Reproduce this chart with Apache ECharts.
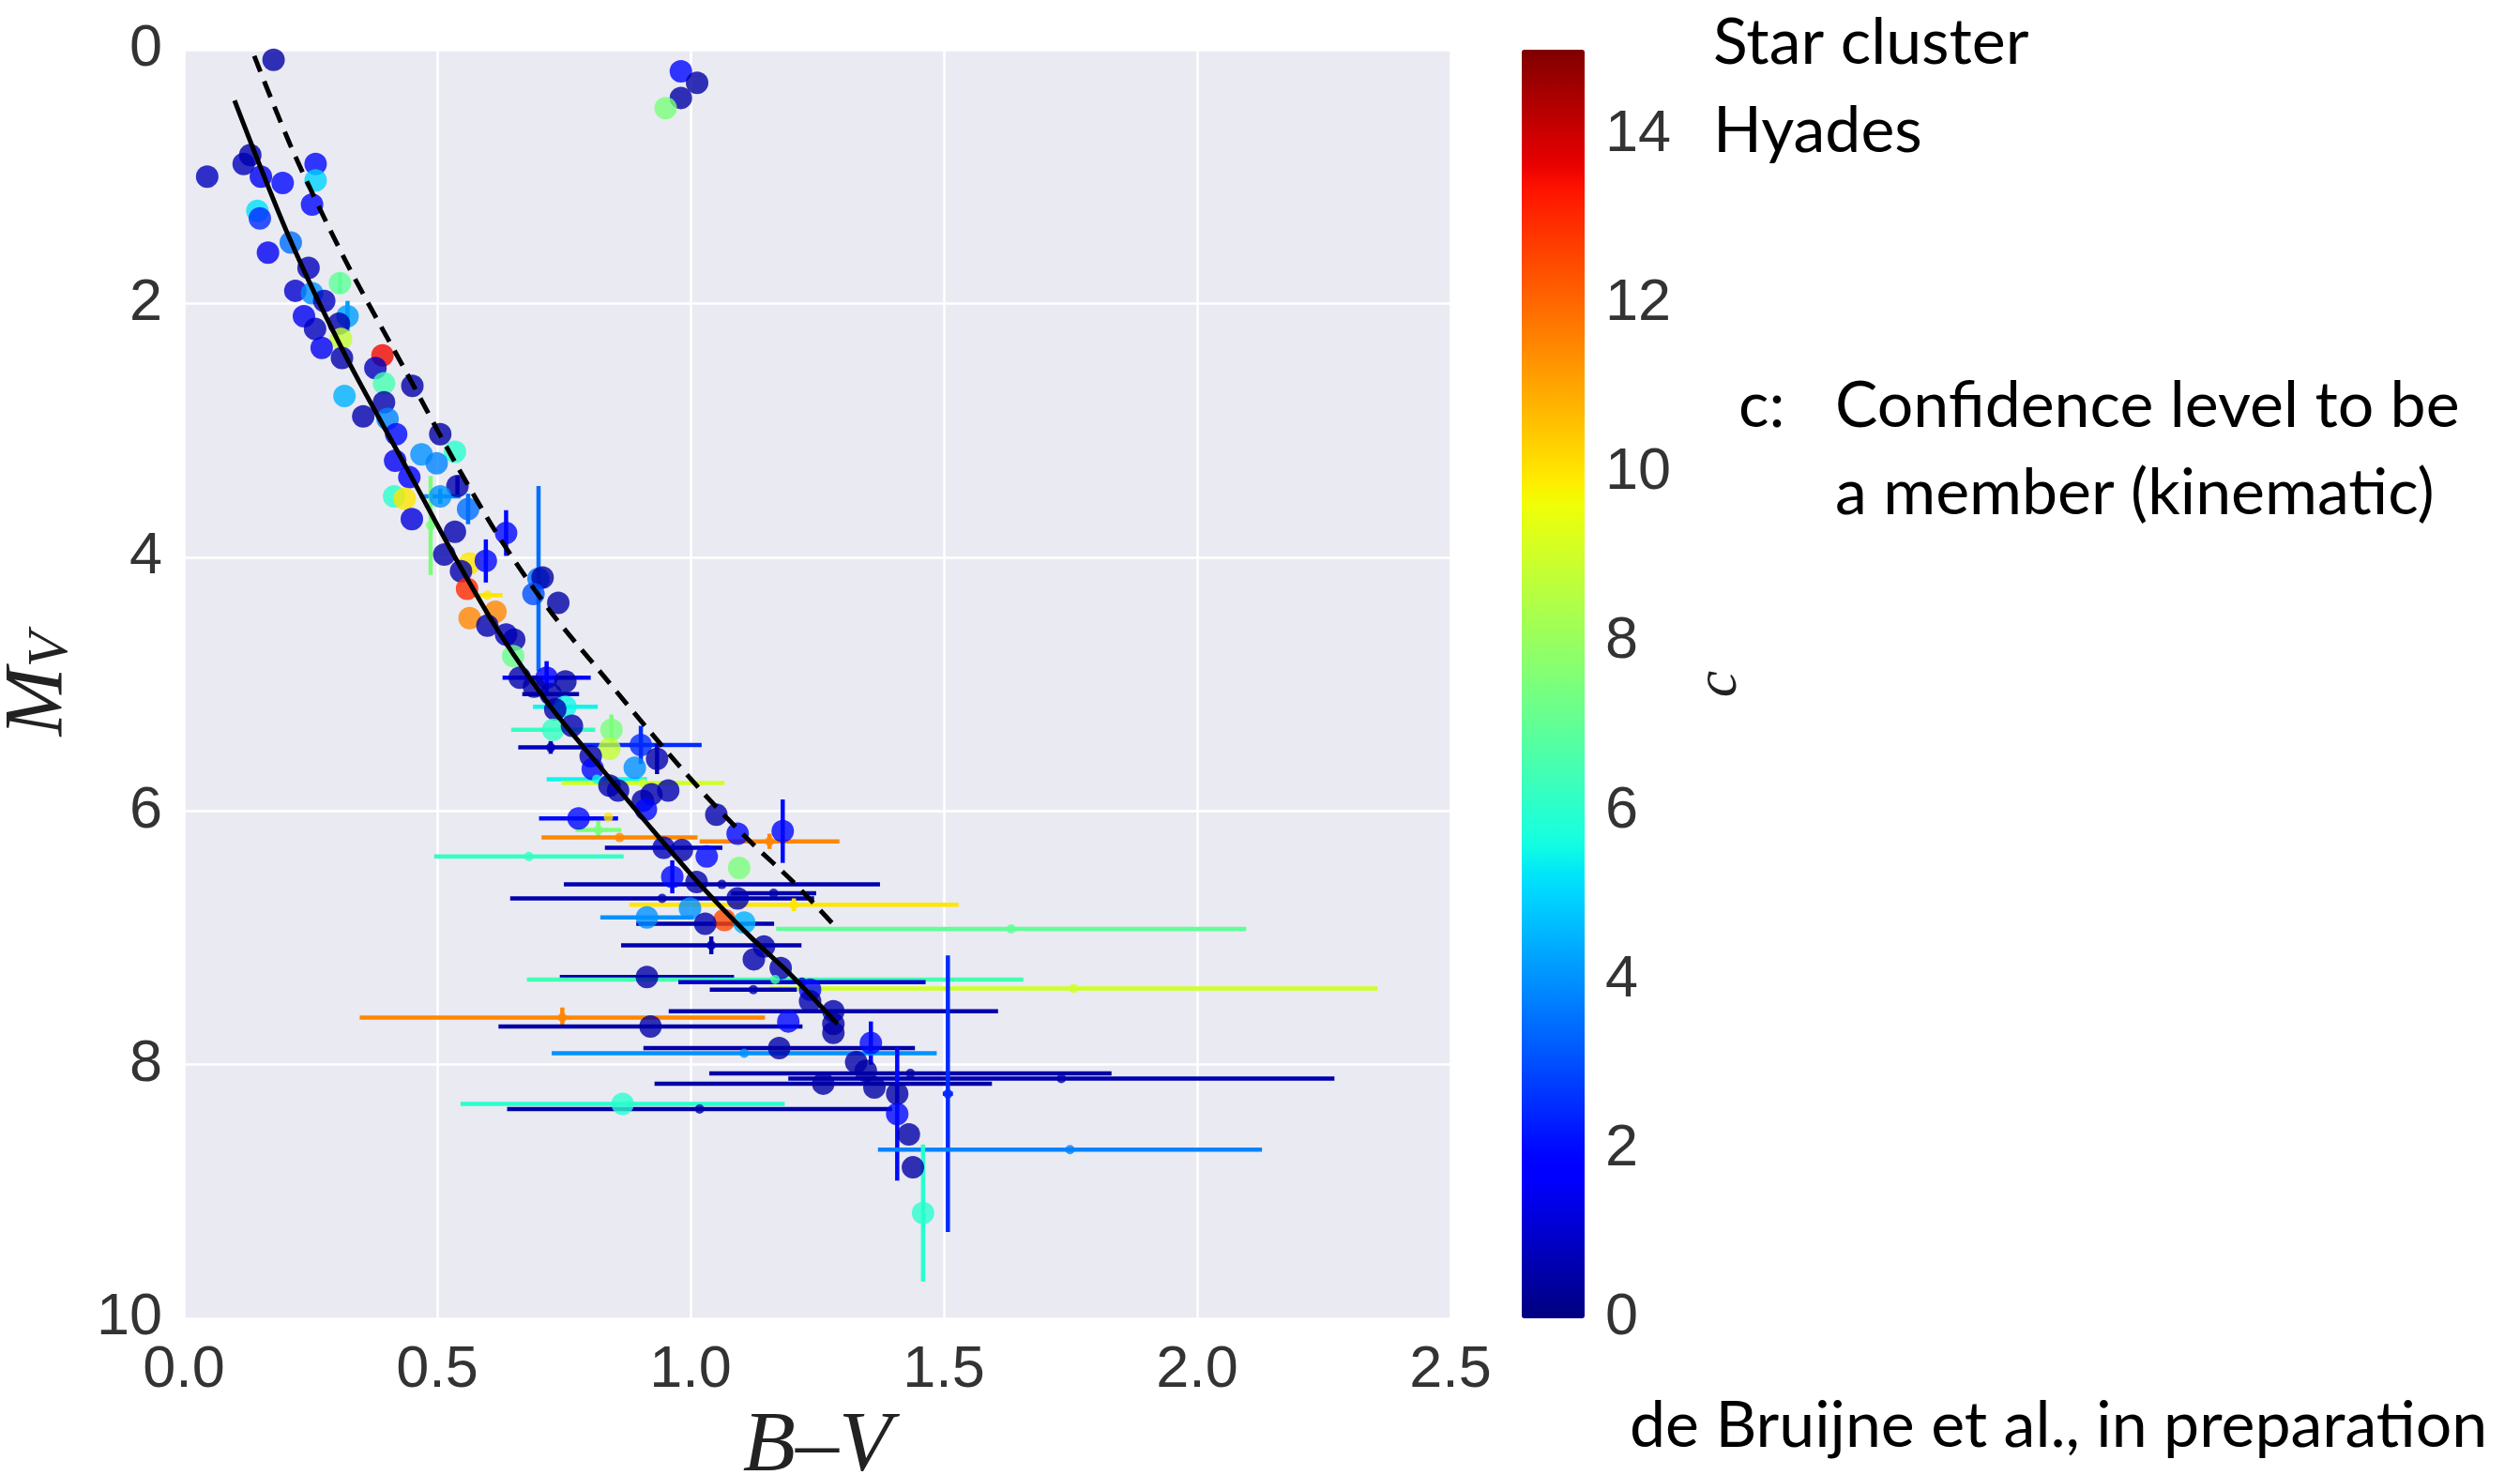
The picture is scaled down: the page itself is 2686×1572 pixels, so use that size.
<!DOCTYPE html>
<html>
<head>
<meta charset="utf-8">
<script src="https://cdn.jsdelivr.net/npm/echarts@6/dist/echarts.min.js"></script>
<style>
  html, body { margin: 0; padding: 0; background: #fff; }
  #chart { width: 2686px; height: 1572px; }
</style>
</head>
<body>
<div id="chart"></div>
<script>
// Hyades colour-magnitude diagram: B-V colour, absolute magnitude M_V,
// kinematic membership confidence c, and 1-sigma errors.
const bv = [
  0.177, 0.981, 1.013, 0.981, 0.951, 0.046, 0.118, 0.131, 0.152, 0.195,
  0.260, 0.260, 0.253, 0.145, 0.150, 0.166, 0.211, 0.246, 0.220, 0.308,
  0.253, 0.277, 0.237, 0.323, 0.306, 0.259, 0.310, 0.272, 0.312, 0.392,
  0.378, 0.451, 0.395, 0.317, 0.395, 0.354, 0.402, 0.419, 0.506, 0.535,
  0.469, 0.499, 0.417, 0.445, 0.540, 0.415, 0.436, 0.506, 0.561, 0.450,
  0.487, 0.535, 0.636, 0.514, 0.564, 0.596, 0.547, 0.559, 0.599, 0.564,
  0.615, 0.700, 0.708, 0.690, 0.739, 0.599, 0.636, 0.652, 0.650, 0.663,
  0.716, 0.753, 0.691, 0.724, 0.753, 0.733, 0.729, 0.766, 0.844, 0.902,
  0.840, 0.724, 0.934, 0.890, 0.803, 0.807, 0.815, 0.906, 0.840, 0.857,
  0.956, 0.906, 0.923, 0.912, 1.051, 0.779, 0.838, 0.818, 0.860, 1.156,
  1.093, 1.182, 0.681, 0.983, 0.947, 1.032, 1.096, 0.964, 1.012, 1.062,
  1.093, 1.164, 0.944, 1.204, 0.999, 0.914, 1.067, 1.106, 1.029, 1.633,
  1.041, 1.145, 1.125, 1.178, 0.914, 1.167, 1.220, 1.756, 1.124, 1.236,
  1.236, 1.282, 1.282, 1.282, 0.747, 0.921, 1.193, 1.356, 1.175, 1.106,
  1.327, 1.346, 1.262, 1.363, 1.434, 1.732, 1.408, 1.508, 0.866, 1.018,
  1.408, 1.431, 1.749, 1.439, 1.459
];
const mv = [
  0.08, 0.17, 0.26, 0.38, 0.46, 1.00, 0.90, 0.83, 1.00, 1.05,
  0.90, 1.03, 1.22, 1.27, 1.33, 1.60, 1.52, 1.72, 1.90, 1.84,
  1.92, 1.98, 2.10, 2.10, 2.16, 2.20, 2.28, 2.35, 2.43, 2.41,
  2.51, 2.65, 2.63, 2.73, 2.78, 2.89, 2.91, 3.03, 3.03, 3.17,
  3.19, 3.26, 3.24, 3.37, 3.44, 3.52, 3.54, 3.52, 3.62, 3.70,
  3.75, 3.80, 3.81, 3.98, 4.05, 4.03, 4.11, 4.25, 4.30, 4.48,
  4.43, 4.17, 4.16, 4.29, 4.36, 4.54, 4.61, 4.65, 4.78, 4.95,
  4.95, 4.98, 5.02, 5.08, 5.18, 5.20, 5.36, 5.33, 5.36, 5.48,
  5.51, 5.50, 5.59, 5.66, 5.57, 5.67, 5.75, 5.78, 5.80, 5.84,
  5.84, 5.92, 5.87, 5.99, 6.03, 6.06, 6.05, 6.15, 6.21, 6.24,
  6.18, 6.16, 6.36, 6.31, 6.29, 6.36, 6.45, 6.52, 6.56, 6.58,
  6.69, 6.65, 6.69, 6.74, 6.77, 6.84, 6.86, 6.88, 6.89, 6.93,
  7.06, 7.07, 7.17, 7.24, 7.31, 7.33, 7.35, 7.40, 7.41, 7.41,
  7.50, 7.58, 7.68, 7.75, 7.63, 7.70, 7.66, 7.83, 7.87, 7.91,
  7.98, 8.05, 8.15, 8.18, 8.07, 8.11, 8.23, 8.23, 8.31, 8.35,
  8.39, 8.55, 8.67, 8.81, 9.17
];
const conf = [
  0.5, 2.0, 0.5, 0.5, 7.5, 0.8, 0.8, 0.6, 1.5, 2.0,
  2.0, 5.0, 2.0, 5.2, 2.5, 1.5, 3.5, 0.8, 1.0, 7.0,
  4.0, 0.8, 1.5, 4.2, 0.6, 0.8, 8.8, 1.5, 0.6, 13.5,
  0.8, 0.5, 6.5, 4.5, 0.6, 0.6, 3.8, 2.0, 0.5, 6.0,
  4.0, 3.8, 1.5, 1.8, 0.6, 6.0, 10.0, 4.0, 3.5, 1.2,
  7.5, 0.6, 2.0, 0.6, 10.0, 2.0, 0.6, 13.0, 10.0, 11.5,
  11.5, 3.5, 0.5, 3.0, 0.5, 0.6, 0.8, 0.6, 7.2, 0.6,
  1.8, 0.5, 0.5, 0.6, 5.5, 0.6, 6.2, 0.6, 7.5, 2.5,
  8.8, 0.8, 0.6, 4.0, 0.6, 2.0, 5.5, 9.0, 0.6, 0.6,
  0.6, 0.6, 0.6, 2.0, 0.6, 2.0, 10.0, 7.5, 11.5, 11.5,
  2.0, 2.0, 6.2, 0.6, 0.8, 2.0, 7.5, 2.0, 0.6, 0.6,
  0.6, 0.6, 0.6, 10.0, 4.0, 4.0, 12.5, 4.5, 0.6, 7.0,
  0.6, 0.6, 0.6, 0.6, 0.5, 6.5, 1.0, 9.0, 0.6, 2.0,
  0.6, 0.6, 0.5, 0.5, 11.5, 0.5, 2.0, 2.0, 0.5, 4.0,
  0.5, 0.5, 0.5, 0.5, 0.5, 0.6, 0.5, 2.5, 6.0, 0.5,
  2.0, 0.5, 3.8, 0.5, 6.0
];
const bvErr = [
  0, 0, 0, 0, 0, 0, 0, 0, 0, 0,
  0, 0, 0, 0, 0, 0, 0, 0, 0, 0,
  0, 0, 0, 0, 0, 0, 0, 0, 0, 0,
  0, 0, 0, 0, 0, 0, 0, 0, 0, 0,
  0, 0, 0, 0, 0, 0, 0, 0.04, 0, 0,
  0, 0, 0, 0, 0, 0, 0, 0, 0.03, 0,
  0, 0, 0, 0, 0, 0, 0, 0, 0, 0,
  0.087, 0, 0, 0.056, 0.064, 0, 0.083, 0, 0, 0.12,
  0, 0.064, 0, 0, 0, 0, 0.099, 0.161, 0, 0,
  0, 0, 0, 0, 0, 0.078, 0, 0.045, 0.154, 0.138,
  0, 0, 0.187, 0, 0.116, 0, 0, 0, 0, 0.312,
  0, 0.084, 0.30, 0.325, 0, 0.092, 0, 0, 0.136, 0.464,
  0.178, 0, 0, 0, 0.172, 0.49, 0.244, 0.60, 0.086, 0,
  0, 0.325, 0, 0, 0.40, 0.30, 0, 0, 0.268, 0.38,
  0, 0, 0.333, 0, 0.397, 0.539, 0, 0.01, 0.32, 0.38,
  0, 0, 0.379, 0, 0
];
const mvErr = [
  0, 0, 0, 0, 0, 0, 0, 0, 0, 0,
  0, 0, 0, 0, 0, 0, 0, 0, 0, 0.08,
  0, 0, 0, 0.12, 0, 0, 0, 0, 0, 0,
  0, 0, 0, 0, 0, 0, 0, 0, 0, 0,
  0, 0, 0, 0, 0.08, 0, 0, 0.06, 0.12, 0,
  0.39, 0, 0.18, 0, 0, 0.17, 0, 0, 0, 0,
  0, 0.73, 0, 0, 0, 0, 0, 0, 0, 0,
  0.13, 0, 0, 0, 0, 0, 0, 0, 0.12, 0.15,
  0, 0.05, 0.12, 0, 0, 0, 0, 0, 0, 0,
  0, 0, 0, 0, 0, 0, 0, 0.07, 0, 0.06,
  0, 0.25, 0, 0, 0, 0, 0, 0.13, 0, 0,
  0, 0, 0, 0.05, 0, 0, 0, 0, 0, 0,
  0.07, 0, 0, 0, 0, 0, 0, 0, 0, 0,
  0, 0, 0, 0, 0.08, 0, 0, 0.17, 0, 0,
  0, 0, 0, 0, 0, 0, 0, 1.09, 0, 0,
  0.525, 0, 0, 0, 0.54
];
// 1 = primary astrometric sample, 2 = secondary (faint-marker) sample
const subset = [
  1, 1, 1, 1, 1, 1, 1, 1, 1, 1,
  1, 1, 1, 1, 1, 1, 1, 1, 1, 1,
  1, 1, 1, 1, 1, 1, 1, 1, 1, 1,
  1, 1, 1, 1, 1, 1, 1, 1, 1, 1,
  1, 1, 1, 1, 1, 1, 1, 1, 1, 1,
  2, 1, 1, 1, 1, 1, 1, 1, 2, 1,
  1, 1, 1, 1, 1, 1, 1, 1, 1, 1,
  1, 1, 1, 1, 1, 1, 1, 1, 1, 1,
  1, 2, 1, 1, 1, 1, 2, 2, 1, 1,
  1, 1, 1, 1, 1, 1, 2, 2, 2, 2,
  1, 1, 2, 1, 1, 1, 1, 1, 1, 2,
  1, 2, 2, 2, 1, 1, 1, 1, 1, 2,
  2, 1, 1, 1, 1, 2, 2, 2, 2, 1,
  1, 1, 1, 1, 2, 1, 1, 1, 1, 2,
  1, 1, 1, 1, 2, 2, 1, 2, 1, 2,
  1, 1, 2, 1, 1
];

// Single-star main sequence and the equal-mass binary sequence above it
const seqBV = [0.10, 0.21, 0.32, 0.44, 0.535, 0.625, 0.724, 0.823, 0.923, 1.03, 1.12, 1.20, 1.29];
const seqMV = [0.40, 1.50, 2.42, 3.30, 4.00, 4.61, 5.18, 5.66, 6.14, 6.63, 7.00, 7.30, 7.68];
const binaryOffset = 0.75;

const xTicks = [0, 0.5, 1.0, 1.5, 2.0, 2.5];
const yTicks = [0, 2, 4, 6, 8, 10];
const cTicks = [0, 2, 4, 6, 8, 10, 12, 14];

// jet colour map
function jet(t) {
  function pw(pts) {
    for (let i = 1; i < pts.length; i++) {
      if (t <= pts[i][0]) {
        const a = pts[i - 1], b = pts[i];
        return a[1] + (b[1] - a[1]) * (t - a[0]) / (b[0] - a[0]);
      }
    }
    return pts[pts.length - 1][1];
  }
  const r = pw([[0, 0], [0.35, 0], [0.66, 1], [0.89, 1], [1, 0.5]]);
  const g = pw([[0, 0], [0.125, 0], [0.375, 1], [0.64, 1], [0.91, 0], [1, 0]]);
  const b = pw([[0, 0.5], [0.11, 1], [0.34, 1], [0.65, 0], [1, 0]]);
  return 'rgb(' + Math.round(r * 255) + ',' + Math.round(g * 255) + ',' + Math.round(b * 255) + ')';
}
const jetColors = [];
for (let i = 0; i <= 100; i++) jetColors.push(jet(i / 100));

const stars = bv.map((x, i) => [x, mv[i], conf[i], bvErr[i], mvErr[i], subset[i]]);
const mainSeq = seqBV.map((x, i) => [x, seqMV[i]]);
const binarySeq = seqBV.map((x, i) => [x, seqMV[i] - binaryOffset]);

function renderErrorBars(params, api) {
  const x = api.value(0), y = api.value(1), ex = api.value(3), ey = api.value(4);
  const color = api.visual('color');
  const kids = [];
  if (ex > 0) {
    const a = api.coord([x - ex, y]), b = api.coord([x + ex, y]);
    kids.push({ type: 'line', shape: { x1: a[0], y1: a[1], x2: b[0], y2: b[1] },
      style: { stroke: color, lineWidth: 4.5 } });
  }
  if (ey > 0) {
    const a = api.coord([x, y - ey]), b = api.coord([x, y + ey]);
    kids.push({ type: 'line', shape: { x1: a[0], y1: a[1], x2: b[0], y2: b[1] },
      style: { stroke: color, lineWidth: 4.5 } });
  }
  return { type: 'group', children: kids };
}

const tickFont = { fontFamily: 'Liberation Sans', fontSize: 63, color: '#333' };
const serif = 'Liberation Serif';
const noteFont = '68px Lato';

const chart = echarts.init(document.getElementById('chart'), null, { renderer: 'canvas' });
chart.setOption({
  animation: false,
  backgroundColor: '#fff',
  grid: [
    { left: 196, top: 53, width: 1350, height: 1352, show: true, backgroundColor: '#EAEAF2',
      borderWidth: 0, outerBoundsMode: 'none', containLabel: false },
    { left: 1622, top: 53, width: 67, height: 1352, show: false, outerBoundsMode: 'none', containLabel: false }
  ],
  xAxis: [
    {
      gridIndex: 0, type: 'value', min: xTicks[0], max: xTicks[xTicks.length - 1], interval: 0.5,
      axisLine: { show: false }, axisTick: { show: false },
      splitLine: { lineStyle: { color: '#fff', width: 2.5 } },
      axisLabel: Object.assign({ formatter: v => v.toFixed(1), margin: 24 }, tickFont),
      name: 'B–V', nameLocation: 'middle', nameGap: 82,
      nameTextStyle: { fontFamily: serif, fontStyle: 'italic', fontSize: 92, color: '#222' }
    },
    { gridIndex: 1, type: 'value', min: 0, max: 1, show: false }
  ],
  yAxis: [
    {
      gridIndex: 0, type: 'value', min: yTicks[0], max: yTicks[yTicks.length - 1], interval: 2, inverse: true,
      axisLine: { show: false }, axisTick: { show: false },
      splitLine: { lineStyle: { color: '#fff', width: 2.5 } },
      axisLabel: Object.assign({ margin: 23 }, tickFont),
      name: '{m|M}{v|V}', nameLocation: 'middle', nameRotate: 90, nameGap: 110,
      nameTextStyle: {
        color: '#222',
        rich: {
          m: { fontFamily: serif, fontStyle: 'italic', fontSize: 88, lineHeight: 88, color: '#222' },
          v: { fontFamily: serif, fontStyle: 'italic', fontSize: 62, lineHeight: 30, verticalAlign: 'bottom', color: '#222' }
        }
      }
    },
    {
      gridIndex: 1, type: 'value', min: 0, max: 15, interval: 2, position: 'right',
      axisLine: { show: false }, axisTick: { show: false }, splitLine: { show: false },
      axisLabel: Object.assign({ margin: 22, showMaxLabel: false,
        formatter: v => (cTicks.indexOf(v) >= 0 ? String(v) : '') }, tickFont),
      name: 'c', nameLocation: 'middle', nameRotate: 90, nameGap: 112,
      nameTextStyle: { fontFamily: serif, fontStyle: 'italic', fontSize: 64, color: '#222' }
    }
  ],
  visualMap: {
    type: 'continuous', min: 0, max: 15, dimension: 2, seriesIndex: [0, 1],
    inRange: { color: jetColors },
    calculable: false, hoverLink: false, text: null,
    left: 1622, top: 53, itemWidth: 67, itemHeight: 1352, padding: 0
  },
  series: [
    {
      type: 'custom', xAxisIndex: 0, yAxisIndex: 0, data: stars,
      encode: { x: 0, y: 1 }, renderItem: renderErrorBars, z: 2, silent: true
    },
    {
      type: 'scatter', xAxisIndex: 0, yAxisIndex: 0, data: stars,
      symbol: 'circle', symbolSize: v => (v[5] === 2 ? 10 : 24), z: 3, silent: true
    },
    {
      type: 'line', xAxisIndex: 0, yAxisIndex: 0, data: mainSeq, smooth: 0.3,
      showSymbol: false, lineStyle: { color: '#000', width: 5 }, z: 4, silent: true
    },
    {
      type: 'line', xAxisIndex: 0, yAxisIndex: 0, data: binarySeq, smooth: 0.3,
      showSymbol: false, lineStyle: { color: '#000', width: 5, type: [18, 11] }, z: 4, silent: true, clip: true
    },
    { type: 'scatter', xAxisIndex: 1, yAxisIndex: 1, data: [] }
  ],
  graphic: [
    { type: 'text', x: 1826, y: 46, style: { text: 'Star cluster', font: noteFont, fill: '#000', verticalAlign: 'middle' } },
    { type: 'text', x: 1826, y: 140, style: { text: 'Hyades', font: noteFont, fill: '#000', verticalAlign: 'middle' } },
    { type: 'text', x: 1853, y: 433, style: { text: 'c:', font: noteFont, fill: '#000', verticalAlign: 'middle' } },
    { type: 'text', x: 1956, y: 433, style: { text: 'Confidence level to be', font: noteFont, fill: '#000', verticalAlign: 'middle' } },
    { type: 'text', x: 1956, y: 526, style: { text: 'a member (kinematic)', font: noteFont, fill: '#000', verticalAlign: 'middle' } },
    { type: 'text', x: 1737, y: 1520, style: { text: 'de Bruijne et al., in preparation', font: noteFont, fill: '#000', verticalAlign: 'middle' } }
  ]
});
</script>
</body>
</html>
